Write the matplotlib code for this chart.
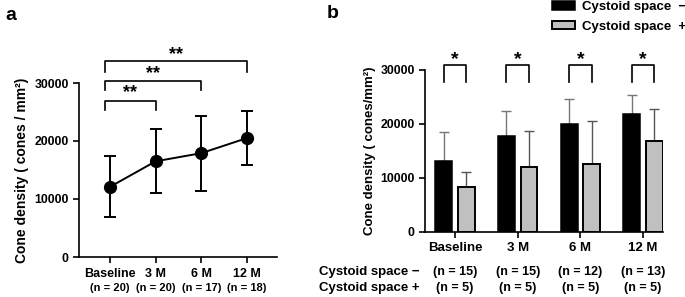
import matplotlib.pyplot as plt
import numpy as np
from matplotlib.patches import Patch

plt.rcParams['font.family'] = ['Liberation Sans', 'DejaVu Sans']
plt.rcParams['font.weight'] = 'bold'

# panel a : all eyes
times = ['Baseline', '3 M', '6 M', '12 M']
n_all = ['(n = 20)', '(n = 20)', '(n = 17)', '(n = 18)']
mean_all = [12100, 16500, 17900, 20500]
low_all = [6900, 11000, 11400, 15900]
high_all = [17400, 22000, 24300, 25200]

# panel b : with / without cystoid space
mean_neg = [13200, 17850, 19950, 21800]
top_neg = [18600, 22450, 24650, 25400]
mean_pos = [8350, 12100, 12600, 16900]
top_pos = [11200, 18750, 20500, 22800]
n_neg = ['(n = 15)', '(n = 15)', '(n = 12)', '(n = 13)']
n_pos = ['(n = 5)', '(n = 5)', '(n = 5)', '(n = 5)']

W, H = 685, 297
fig = plt.figure(figsize=(W / 100, H / 100), dpi=100)

def box(x0, x1, ytop, ybot):
    return [x0 / W, 1 - ybot / H, (x1 - x0) / W, (ybot - ytop) / H]

def style(ax):
    ax.spines['top'].set_visible(False)
    ax.spines['right'].set_visible(False)
    for s in ['left', 'bottom']:
        ax.spines[s].set_linewidth(1.2)
    ax.tick_params(width=1.2, length=4, labelsize=8.8)
    ax.set_yticks([0, 10000, 20000, 30000])
    ax.set_ylim(0, 30000)
    for t in ax.get_yticklabels():
        t.set_fontweight('bold')

# ---------- a ----------
axa = fig.add_axes(box(79, 277, 83, 257))
x = np.arange(4)
yerr = [np.array(mean_all) - np.array(low_all), np.array(high_all) - np.array(mean_all)]
axa.errorbar(x, mean_all, yerr=yerr, color='black', lw=1.4, marker='o', ms=8.5,
             capsize=4, capthick=1.4, elinewidth=1.4)
axa.set_xlim(-0.68, 3.66)
style(axa)
axa.set_xticks(x)
axa.set_xticklabels(times, fontsize=9, fontweight='bold')
axa.tick_params(axis='x', pad=4)
tr = axa.get_xaxis_transform()
for i in range(4):
    axa.text(x[i], -0.178, n_all[i], transform=tr, ha='center', va='center', fontsize=8, fontweight='bold')
axa.set_ylabel('Cone density ( cones / mm²)', fontsize=10, fontweight='bold', labelpad=4)

# significance brackets
for xr, top, leg, star in [(1, 26900, 25300, 28300), (2, 30400, 28800, 31550), (3, 33800, 31950, 34850)]:
    x0 = -0.11
    axa.plot([x0, x0, xr, xr], [leg, top, top, leg], color='black', lw=1.2, clip_on=False)
    axa.text((x0 + xr) / 2, star, '**', ha='center', va='center', fontsize=13, fontweight='bold')

fig.text(5 / W, 1 - 16 / H, 'a', fontsize=14, fontweight='bold', va='center')

# ---------- b ----------
axb = fig.add_axes(box(425, 663, 70, 232))
off, bw = 0.18, 0.27
axb.bar(x - off, mean_neg, bw, color='black', edgecolor='black', lw=1.1, zorder=2)
axb.bar(x + off, mean_pos, bw, color='#c0c0c0', edgecolor='black', lw=1.4, zorder=2)
axb.errorbar(x - off, mean_neg, yerr=[np.zeros(4), np.array(top_neg) - np.array(mean_neg)],
             fmt='none', ecolor='#777777', elinewidth=1, capsize=3.5, capthick=1, zorder=1)
axb.errorbar(x + off, mean_pos, yerr=[np.zeros(4), np.array(top_pos) - np.array(mean_pos)],
             fmt='none', ecolor='#555555', elinewidth=1, capsize=3.5, capthick=1, zorder=1)
axb.set_xlim(-0.48, 3.32)
style(axb)
axb.set_xticks(x)
axb.set_xticklabels(times, fontsize=9.5, fontweight='bold')
axb.tick_params(axis='x', pad=3)
axb.set_ylabel('Cone density ( cones/mm²)', fontsize=9.5, fontweight='bold', labelpad=3)

for i in range(4):
    axb.plot([i - off, i - off, i + off, i + off], [27800, 30900, 30900, 27800], color='black', lw=1.2, clip_on=False)
    axb.text(i, 32000, '*', ha='center', va='center', fontsize=14, fontweight='bold')

trb = axb.get_xaxis_transform()
for i in range(4):
    axb.text(i, -0.247, n_neg[i], transform=trb, ha='center', va='center', fontsize=9, fontweight='bold')
    axb.text(i, -0.346, n_pos[i], transform=trb, ha='center', va='center', fontsize=9, fontweight='bold')
fig.text(319 / W, 1 - 272 / H, 'Cystoid space \u2212', fontsize=9.5, fontweight='bold', va='center')
fig.text(319 / W, 1 - 288 / H, 'Cystoid space +', fontsize=9.5, fontweight='bold', va='center')

fig.text(327 / W, 1 - 14 / H, 'b', fontsize=14, fontweight='bold', va='center')

handles = [Patch(facecolor='black', edgecolor='black', lw=1.1),
           Patch(facecolor='#c0c0c0', edgecolor='black', lw=1.4)]
fig.legend(handles, ['Cystoid space  \u2212', 'Cystoid space  +'], loc='upper left',
           bbox_to_anchor=(551 / W, 1.0), frameon=False, borderpad=0.1, borderaxespad=0,
           handlelength=1.75, handleheight=0.65, handletextpad=0.5, labelspacing=0.55,
           prop={'size': 9.5, 'weight': 'bold'})

fig.savefig('out.png', dpi=100)
